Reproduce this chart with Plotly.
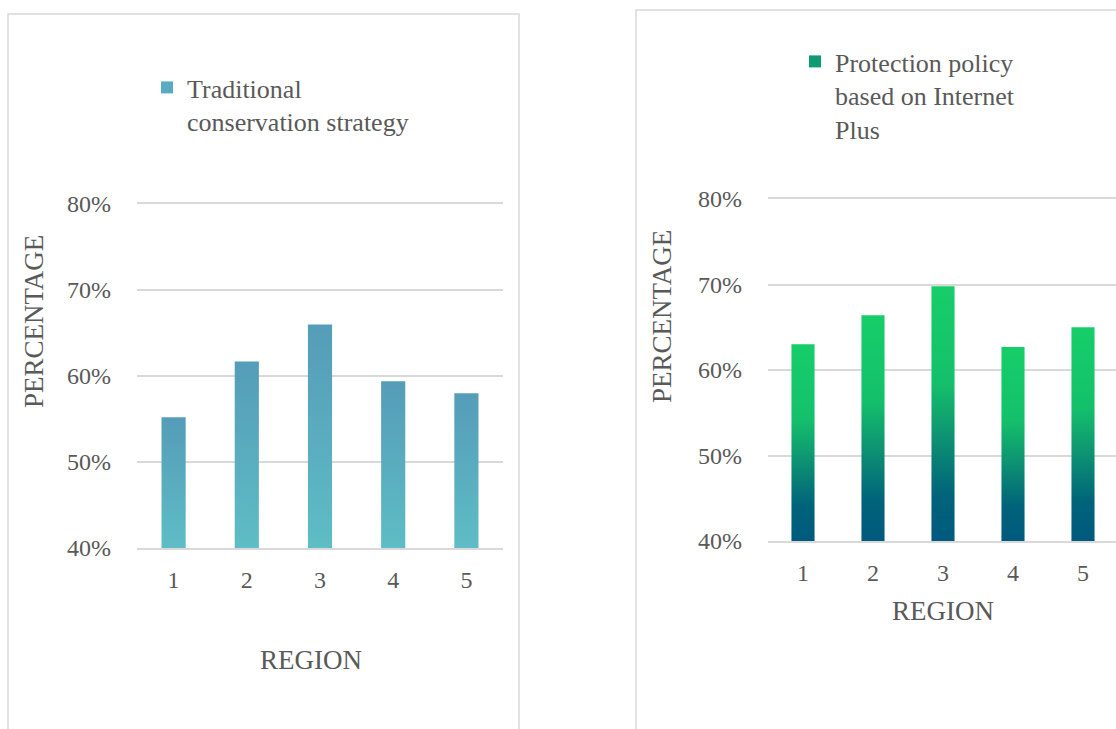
import plotly.graph_objects as go

# ---- data ----
regions = [1, 2, 3, 4, 5]
traditional = [0.552, 0.617, 0.660, 0.594, 0.580]
internet_plus = [0.630, 0.664, 0.698, 0.627, 0.650]
y_tick_vals = [0.4, 0.5, 0.6, 0.7, 0.8]
y_tick_text = ["40%", "50%", "60%", "70%", "80%"]
series_left = "Traditional<br>conservation strategy"
series_right = "Protection policy<br>based on Internet<br>Plus"
x_title = "REGION"
y_title = "PERCENTAGE"

# ---- styles ----
FONT = "Liberation Serif, Times New Roman, serif"
TXT = "#595959"
GRID = "#D9D9D9"
left_scale = [[0, "#5EBDC5"], [1, "#559CB8"]]
right_scale = [[0, "#005A7E"], [0.18, "#00637A"], [0.42, "#0E9572"],
               [0.62, "#14C06B"], [1, "#16CE69"]]
HALF = 0.165
BASE = 0.4

fig = go.Figure()


def add_bars(values, xa, ya, scale, name, legend, swatch):
    for r, v in zip(regions, values):
        fig.add_trace(go.Scatter(
            x=[r - HALF, r + HALF, r + HALF, r - HALF, r - HALF],
            y=[BASE, BASE, v, v, BASE],
            mode="lines", line=dict(width=0), fill="toself",
            fillgradient=dict(type="vertical", colorscale=scale),
            xaxis=xa, yaxis=ya, showlegend=False, hoverinfo="skip"))
    # legend entry
    fig.add_trace(go.Bar(x=[None], y=[None], name=name, marker=dict(color=swatch, line=dict(width=0)),
                         xaxis=xa, yaxis=ya, legend=legend, showlegend=True))


add_bars(traditional, "x", "y", left_scale, series_left, "legend", "#5AABBF")
add_bars(internet_plus, "x2", "y2", right_scale, series_right, "legend2", "#0E9A72")

W, H = 1116, 729
axis_font = dict(family=FONT, size=24, color=TXT)
title_font = dict(family=FONT, size=27, color=TXT)


def xaxis(domain, rng, ya):
    return dict(domain=domain, range=rng, anchor=ya, tickvals=regions, ticktext=[str(r) for r in regions],
                showgrid=False, zeroline=False, showline=True, mirror=True, linecolor=GRID, linewidth=1.5,
                ticks="", tickfont=axis_font, ticklabelstandoff=9, automargin=False)


def yaxis(domain, xa):
    return dict(domain=domain, range=[0.4, 0.8], anchor=xa, tickvals=y_tick_vals, ticktext=y_tick_text,
                showgrid=True, gridcolor=GRID, gridwidth=1.5, zeroline=False, showline=False,
                ticks="", tickfont=axis_font, ticklabelstandoff=25, automargin=False)


def title_ann(text, px, py, angle=0):
    return dict(text=text, xref="paper", yref="paper", x=px / W, y=1 - py / H,
                xanchor="center", yanchor="middle", showarrow=False, textangle=angle, font=title_font)


fig.update_layout(
    width=W, height=H,
    margin=dict(l=0, r=0, t=0, b=0, pad=0, autoexpand=False),
    paper_bgcolor="white", plot_bgcolor="white",
    font=dict(family=FONT, color=TXT),
    xaxis=xaxis([137 / W, 503 / W], [0.5, 5.5], "y"),
    yaxis=yaxis([1 - 548 / H, 1 - 204 / H], "x"),
    xaxis2=xaxis([768 / W, 1.0], [0.5, 5.5 - 2 / 70], "y2"),
    yaxis2=yaxis([1 - 541 / H, 1 - 199 / H], "x2"),
    legend=dict(x=(187 - 40) / W, y=1 - 64 / H, xanchor="left", yanchor="top", valign="top",
                font=dict(family=FONT, size=26, color=TXT), bgcolor="rgba(0,0,0,0)"),
    legend2=dict(x=(835 - 40) / W, y=1 - 38 / H, xanchor="left", yanchor="top", valign="top",
                 font=dict(family=FONT, size=26, color=TXT), bgcolor="rgba(0,0,0,0)"),
    annotations=[
        title_ann(x_title, 311, 660),
        title_ann(y_title, 34, 322, -90),
        title_ann(x_title, 943, 611),
        title_ann(y_title, 662, 317, -90),
    ],
    shapes=[
        dict(type="rect", xref="paper", yref="paper", x0=8 / W, x1=519 / W, y0=-0.05, y1=1 - 14 / H,
             line=dict(color=GRID, width=1.5), fillcolor="rgba(0,0,0,0)", layer="below"),
        dict(type="rect", xref="paper", yref="paper", x0=636 / W, x1=1.05, y0=-0.05, y1=1 - 10 / H,
             line=dict(color=GRID, width=1.5), fillcolor="rgba(0,0,0,0)", layer="below"),
    ],
)

fig.write_html("out.html")
